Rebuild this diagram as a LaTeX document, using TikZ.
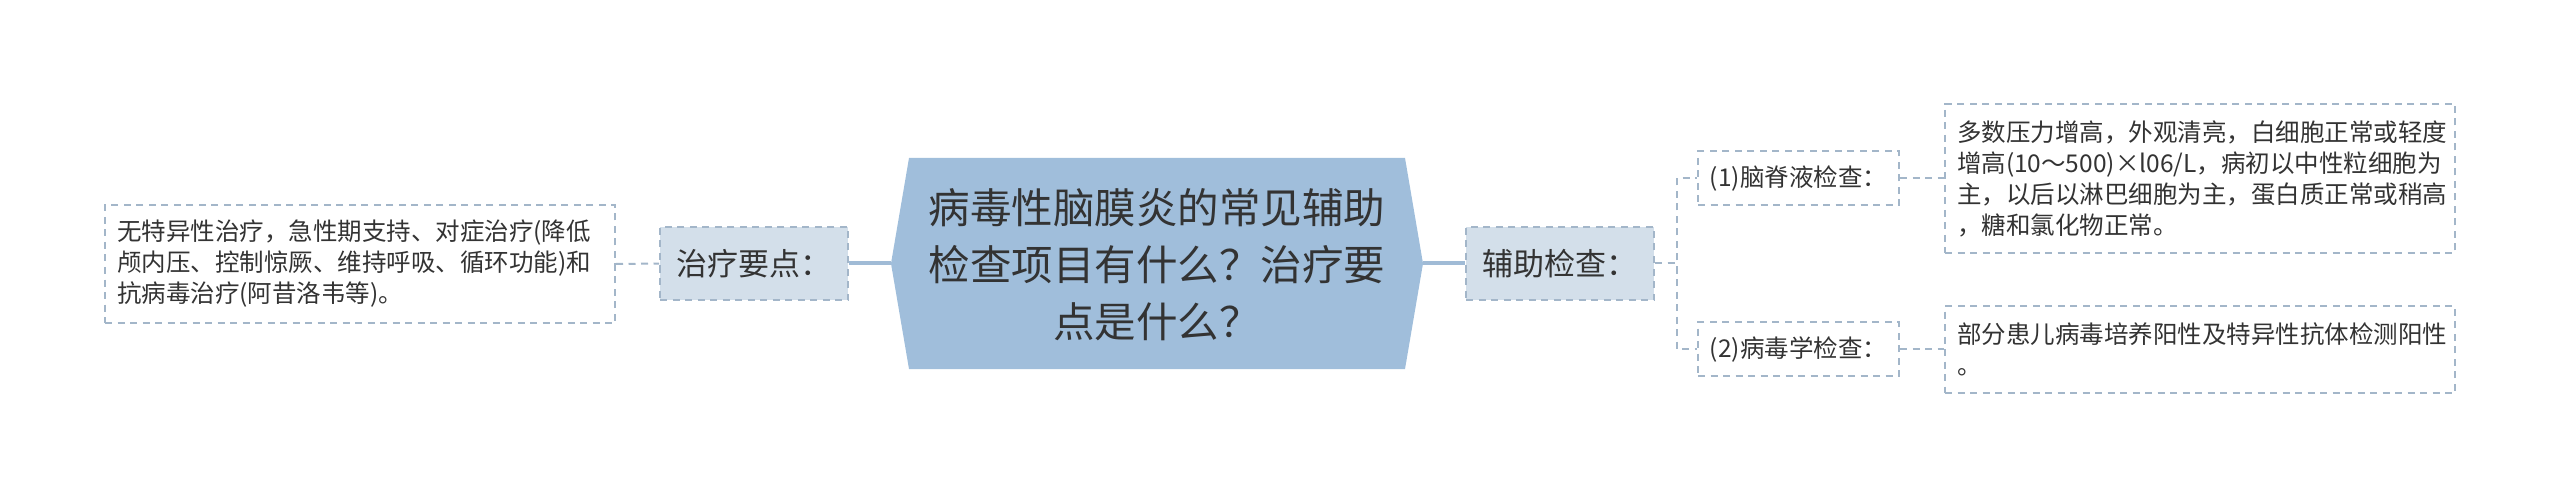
\documentclass[tikz,border=0pt]{standalone}
\usepackage{fontspec}
\setmainfont{Noto Sans CJK SC}
\definecolor{centerc}{HTML}{A0BEDB}
\definecolor{midc}{HTML}{D3DFEA}
\definecolor{bordc}{HTML}{A3B6C9}
\definecolor{linec}{HTML}{A0BBD6}
\definecolor{textc}{HTML}{333333}
\begin{document}
\begin{tikzpicture}[x=1pt,y=-1pt,
  dbox/.style={draw=bordc, line width=2pt, dash pattern=on 7pt off 5.5pt, inner sep=0pt, text=textc},
  midbox/.style={dbox, fill=midc, minimum width=188pt, minimum height=73pt, font=\fontsize{31}{36}\selectfont},
  labbox/.style={dbox, fill=white, minimum width=201pt, minimum height=54pt, font=\fontsize{24.5}{30}\selectfont},
  notebox/.style={dbox, fill=white, minimum width=510pt, text width=486pt, align=left, font=\fontsize{24.5}{31}\selectfont},
  dconn/.style={draw=bordc, line width=2pt, dash pattern=on 7pt off 5.5pt},
  sconn/.style={draw=linec, line width=4pt}]
\useasboundingbox (0,0) rectangle (2560,497);
% central topic
\coordinate (ctl) at (909,158);
\coordinate (ctr) at (1405,158);
\coordinate (cr) at (1423,263.5);
\coordinate (cbr) at (1405,369);
\coordinate (cbl) at (909,369);
\coordinate (cl) at (891,263.5);
\fill[centerc] (ctl) -- (ctr) -- (cr) -- (cbr) -- (cbl) -- (cl) -- cycle;
\node[text=textc, align=center, font=\fontsize{41.5}{57}\selectfont] (c) at (1157,265)
  {病毒性脑膜炎的常见辅助\\检查项目有什么？治疗要\\点是什么？};
% left branch
\node[midbox] (t1) at (754,263.5) {治疗要点：};
\node[notebox, minimum height=118pt] (n0) at (360,264)
  {无特异性治疗，急性期支持、对症治疗(降低\\颅内压、控制惊厥、维持呼吸、循环功能)和\\抗病毒治疗(阿昔洛韦等)。};
% right branch
\node[midbox] (t2) at (1560,263.5) {辅助检查：};
\node[labbox] (l1) at (1798.5,178.5) {(1)脑脊液检查：};
\node[labbox] (l2) at (1798.5,349) {(2)病毒学检查：};
\node[notebox, minimum height=149pt] (n1) at (2200,178.5)
  {多数压力增高，外观清亮，白细胞正常或轻度\\增高(10～500)×l06/L，病初以中性粒细胞为\\主，以后以淋巴细胞为主，蛋白质正常或稍高\\，糖和氯化物正常。};
\node[notebox, minimum height=87pt] (n2) at (2200,349.5)
  {部分患儿病毒培养阳性及特异性抗体检测阳性\\。};
% connectors
\draw[sconn] (t1.east) -- (cl);
\draw[sconn] (cr) -- (t2.west);
\draw[dconn] (n0.east) -- (t1.west);
\draw[dconn] (t2.east) -- ++(22,0) |- (l1.west);
\draw[dconn] (t2.east) -- ++(22,0) |- (l2.west);
\draw[dconn] (l1.east) -- (n1.west |- l1.east);
\draw[dconn] (l2.east) -- (n2.west |- l2.east);
\end{tikzpicture}
\end{document}
